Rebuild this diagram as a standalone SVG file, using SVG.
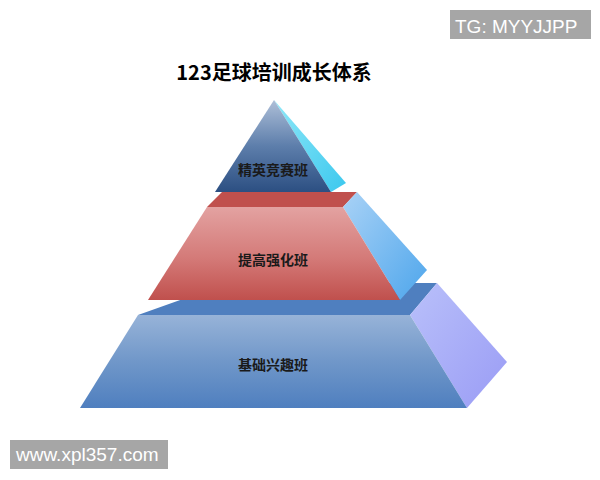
<svg xmlns="http://www.w3.org/2000/svg" width="600" height="480" viewBox="0 0 600 480">
<defs>
<linearGradient id="gTopFront" x1="0" y1="0" x2="0" y2="1">
<stop offset="0" stop-color="#aebfd8"/>
<stop offset="0.5" stop-color="#5d7eab"/>
<stop offset="1" stop-color="#2c4f82"/>
</linearGradient>
<linearGradient id="gTopSide" x1="0" y1="0" x2="1" y2="1">
<stop offset="0" stop-color="#8fe8f8"/>
<stop offset="1" stop-color="#3cc8ee"/>
</linearGradient>
<linearGradient id="gMidFront" x1="0" y1="0" x2="0" y2="1">
<stop offset="0" stop-color="#e3a2a1"/>
<stop offset="0.55" stop-color="#d47a78"/>
<stop offset="1" stop-color="#c0504d"/>
</linearGradient>
<linearGradient id="gMidSide" x1="0" y1="0" x2="1" y2="1">
<stop offset="0" stop-color="#a9d2f6"/>
<stop offset="1" stop-color="#4ea6ec"/>
</linearGradient>
<linearGradient id="gBotFront" x1="0" y1="0" x2="0" y2="1">
<stop offset="0" stop-color="#97b3d8"/>
<stop offset="0.5" stop-color="#7097c9"/>
<stop offset="1" stop-color="#4f7fbf"/>
</linearGradient>
<linearGradient id="gBotSide" x1="0" y1="0" x2="1" y2="1">
<stop offset="0" stop-color="#b9c0fa"/>
<stop offset="1" stop-color="#9a9cf5"/>
</linearGradient>
<style>
.lbl{font-family:"Noto Sans CJK SC","Noto Sans",sans-serif;font-size:14px;font-weight:700;fill:#1a1a1a;text-anchor:middle}
.wm{font-family:"Liberation Sans","Noto Sans",sans-serif;font-size:19px;fill:#ffffff}
.wmbox{fill:#a6a6a6}
</style>
</defs>
<rect width="600" height="480" fill="#ffffff"/>

<g id="watermark-tg">
<rect class="wmbox" x="450" y="10" width="141" height="29"/>
<text class="wm" x="455" y="33">TG: MYYJJPP</text>
</g>

<text id="title" x="274" y="80" text-anchor="middle" style="font-family:'Noto Sans CJK SC','Noto Sans',sans-serif;font-size:20px;font-weight:700;fill:#000">123足球培训成长体系</text>

<g id="tier-bottom">
<polygon points="138,315 410,315 437,283 228,283" fill="#4f7fbf"/>
<polygon points="410,315 437,283 507,362 467,408" fill="url(#gBotSide)"/>
<polygon points="138,315 410,315 467,408 80,408" fill="url(#gBotFront)"/>
<text class="lbl" x="273" y="370">基础兴趣班</text>
</g>

<g id="tier-middle">
<polygon points="207,207 343,207 357,192 222,192" fill="#c0504d"/>
<polygon points="343,207 357,192 427,270 400,300" fill="url(#gMidSide)"/>
<polygon points="207,207 343,207 400,300 148,300" fill="url(#gMidFront)"/>
<text class="lbl" x="273" y="265">提高强化班</text>
</g>

<g id="tier-top">
<polygon points="274,100 346,183 331,192" fill="url(#gTopSide)"/>
<polygon points="274,100 331,192 215,192" fill="url(#gTopFront)"/>
<text class="lbl" x="273" y="175">精英竞赛班</text>
</g>

<g id="watermark-url">
<rect class="wmbox" x="10" y="440" width="158" height="29"/>
<text class="wm" x="16" y="461">www.xpl357.com</text>
</g>
</svg>
